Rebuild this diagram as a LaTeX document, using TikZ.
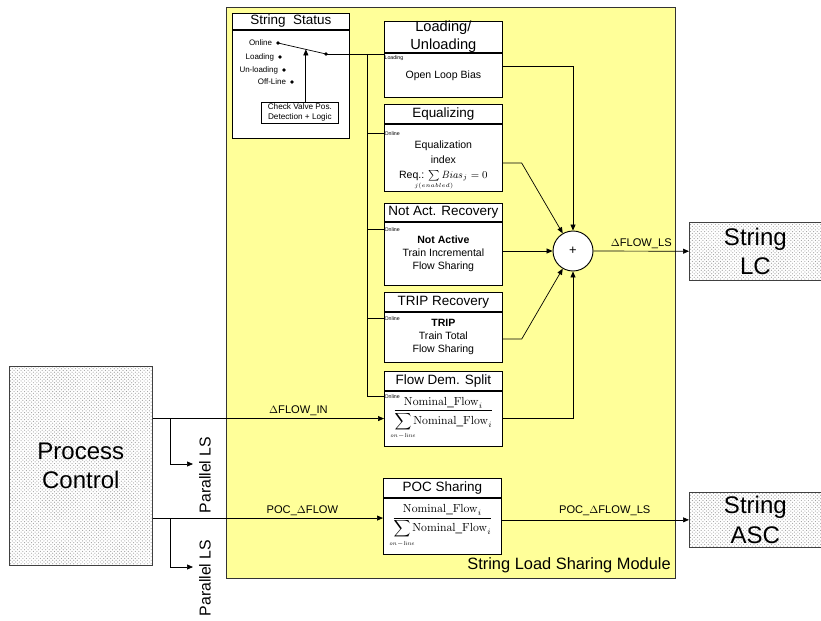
\documentclass[tikz,border=0pt]{standalone}
\usepackage{amsmath}
\usepackage[no-math]{fontspec}
\setmainfont{Liberation Sans}
\usetikzlibrary{arrows.meta,positioning,calc,patterns}
\definecolor{ModYellow}{HTML}{FFFF99}
\definecolor{ExtGray}{HTML}{A0A0A0}
\newcommand{\nomfrac}{\fontsize{10}{12}\selectfont$\dfrac{\mathrm{Nominal\_Flow}_i\rule[-3pt]{0pt}{3pt}}%
    {\displaystyle\sum_{\makebox[0pt]{$\scriptscriptstyle\mathit{on-line}$}}\mathrm{Nominal\_Flow}_i}$}
\tikzset{
    % Base box style
    basebox/.style={
        draw=black,
        fill=white,
        line width=0.6pt,
        inner sep=0pt,
        align=center,
        anchor=north west
    },
    % Title row of a function block
    titlebox/.style={
        basebox,
        minimum width=3.54cm,
        font=\fontsize{11.5}{12.5}\selectfont
    },
    % Body of a function block
    bodybox/.style={
        basebox,
        minimum width=3.54cm,
        font=\fontsize{9}{11}\selectfont
    },
    % Small enable tag inside a block
    tagnode/.style={
        anchor=west,
        inner sep=0.3pt,
        font=\fontsize{4.5}{5}\selectfont
    },
    % External block with dotted fill
    extbox/.style={
        draw=black!75,
        line width=0.6pt,
        preaction={fill=white},
        pattern=crosshatch dots,
        pattern color=ExtGray,
        inner sep=0pt,
        align=center,
        anchor=north west,
        font=\fontsize{20.5}{25}\selectfont
    },
    % Module background
    modbox/.style={
        draw=black!80,
        fill=ModYellow,
        line width=0.8pt,
        anchor=north west,
        inner sep=0pt
    },
    % Summing junction
    sumnode/.style={
        circle,
        draw=black,
        fill=white,
        line width=0.8pt,
        minimum size=1.2cm,
        inner sep=0pt,
        font=\fontsize{11}{12}\selectfont
    },
    % Switch contact
    swdot/.style={
        circle,
        fill=black,
        inner sep=0pt,
        minimum size=1.1mm
    },
    % Switch contact label
    swlabel/.style={
        inner sep=0pt,
        font=\fontsize{6.8}{7}\selectfont
    },
    % Signal label
    siglabel/.style={
        inner sep=2pt,
        font=\fontsize{9.5}{10}\selectfont
    },
    % Rotated side label
    sidelabel/.style={
        rotate=90,
        inner sep=0pt,
        font=\fontsize{13.5}{14}\selectfont
    },
    % Plain wire
    wire/.style={
        line width=0.6pt,
        draw=black
    },
    % Signal arrow
    sigarrow/.style={
        wire,
        -{Triangle[length=1.8mm,width=1.5mm]}
    }
}

\begin{document}
\begin{tikzpicture}[x=0.03cm, y=-0.03cm]
    \useasboundingbox (0,0) rectangle (821,620);

    % String load sharing module
    \node[modbox, minimum width=13.47cm, minimum height=17.13cm] (mod) at (226,7) {};
    \node[anchor=south east, inner sep=0pt, font=\fontsize{14}{15}\selectfont] (modlbl)
        at ($(mod.south east)+(-5,-6)$) {String Load Sharing Module};

    % String status and switch
    \node[titlebox, minimum width=3.51cm, minimum height=0.48cm] (ssT) at (232,13) {String\ \ Status};
    \node[bodybox, minimum width=3.51cm, minimum height=3.24cm] (ssB) at (ssT.south west) {};
    \node[basebox, minimum width=2.31cm, minimum height=0.63cm, font=\fontsize{7}{8.5}\selectfont] (cv)
        at (261,102) {Check Valve Pos.\\Detection + Logic};
    \node[swdot] (on) at (278,43) {};
    \node[swdot] (ld) at (280,57) {};
    \node[swdot] (ul) at (284,70) {};
    \node[swdot] (of) at (292,82) {};
    \node[swdot] (pv) at (326,54) {};
    \node[swlabel, left=1.1mm of on] (onL) {Online};
    \node[swlabel, left=1.1mm of ld] (ldL) {Loading};
    \node[swlabel, left=1.1mm of ul] (ulL) {Un-loading};
    \node[swlabel, left=1.1mm of of] (ofL) {Off-Line};
    \draw[wire] (on.center) -- (pv.center);
    \coordinate (swm) at ($(on)!0.58!(pv)$);
    \draw[sigarrow] (cv.north -| swm) -- (swm);

    % Function blocks
    \node[titlebox, minimum height=0.93cm, font=\fontsize{12.5}{15}\selectfont] (ldT) at (384,21) {Loading/\\Unloading};
    \node[bodybox, minimum height=1.32cm] (ldB) at (ldT.south west) {Open Loop Bias};
    \node[tagnode] (ldOn) at ($(ldB.north west)+(0,5)$) {Loading};

    \node[titlebox, minimum height=0.57cm] (eqT) at (384,104) {Equalizing};
    \node[bodybox, minimum height=2.01cm] (eqB) at (eqT.south west) {};
    \node[bodybox, draw=none, fill=none, anchor=center, font=\fontsize{9}{13}\selectfont] (eqTx)
        at ($(eqB.center)+(0,8)$)
        {Equalization\\index\\Req.: $\sum\limits_{\makebox[0pt]{$\scriptscriptstyle j(enabled)$}}\mathit{Bias}_j=0$};
    \node[tagnode] (eqOn) at ($(eqB.north west)+(0,10)$) {Online};

    \node[titlebox, minimum height=0.54cm] (naT) at (384,203) {Not Act. Recovery};
    \node[bodybox, minimum height=1.89cm] (naB) at (naT.south west) {\textbf{Not Active}\\Train Incremental\\Flow Sharing};
    \node[tagnode] (naOn) at ($(naB.north west)+(0,8)$) {Online};

    \node[titlebox, minimum height=0.57cm] (trT) at (384,292) {TRIP Recovery};
    \node[bodybox, minimum height=1.5cm] (trB) at (trT.south west) {\textbf{TRIP}\\Train Total\\Flow Sharing};
    \node[tagnode] (trOn) at ($(trB.north west)+(0,7)$) {Online};

    \node[titlebox, minimum height=0.57cm] (fdT) at (384,371) {Flow Dem. Split};
    \node[bodybox, minimum height=1.65cm] (fdB) at (fdT.south west) {\nomfrac};
    \node[tagnode] (fdOn) at ($(fdB.north west)+(0,6)$) {Online};

    \node[titlebox, minimum height=0.57cm] (pocT) at (383,478) {POC Sharing};
    \node[bodybox, minimum height=1.68cm] (pocB) at (pocT.south west) {\nomfrac};

    % Summing junction
    \node[sumnode] (sum) at (573,251) {+};

    % External blocks
    \node[extbox, minimum width=4.29cm, minimum height=5.97cm] (pc) at (9,366) {Process\\Control};
    \node[extbox, minimum width=3.96cm, minimum height=1.74cm] (lc) at (689,222) {String\\LC};
    \node[extbox, minimum width=3.96cm, minimum height=1.65cm] (asc) at (689,492) {String\\ASC};

    % Enable bus
    \coordinate (bus) at (367,54);
    \draw[wire] (pv.center) -- (pv -| ldB.west);
    \draw[wire] (bus) -- (bus |- fdOn.west) -- (fdOn.west);
    \draw[wire] (bus |- eqOn.west) -- (eqOn.west);
    \draw[wire] (bus |- naOn.west) -- (naOn.west);
    \draw[wire] (bus |- trOn.west) -- (trOn.west);

    % Block outputs into the sum
    \draw[sigarrow] ($(ldB.east)+(0,-9)$) -| (sum.north);
    \draw[sigarrow] ($(eqB.east)+(0,5.5)$) -- ++(19,0) -- (sum);
    \draw[sigarrow] (sum -| naB.east) -- (sum);
    \draw[sigarrow] ($(trB.east)+(0,2)$) -- ++(19,0) -- (sum);
    \draw[sigarrow] (fdB.east) -| (sum.south);

    % Outputs
    \draw[sigarrow] (sum) -- (lc) node[siglabel, midway, above] {$\Delta$FLOW\_LS};
    \draw[sigarrow] (asc.west -| pocB.east) -- (asc.west)
        node[siglabel, pos=0.55, above, yshift=1pt] {POC\_$\Delta$FLOW\_LS};

    % Inputs from process control
    \coordinate (pocIn) at ($(pocB.west)+(0,-8)$);
    \draw[sigarrow] (pc.east |- fdB.west) -- (fdB.west)
        node[siglabel, pos=0.63, above] {$\Delta$FLOW\_IN};
    \draw[sigarrow] (pc.east |- pocIn) -- (pocIn)
        node[siglabel, pos=0.65, above] {POC\_$\Delta$FLOW};

    % Parallel load sharing branches
    \node[sidelabel] (plA) at (205,475) {Parallel LS};
    \node[sidelabel] (plB) at (205,578) {Parallel LS};
    \coordinate (br1) at ($(pc.east |- fdB.west)+(18,0)$);
    \coordinate (br2) at ($(pc.east |- pocIn)+(18,0)$);
    \coordinate (pl1) at (193,464);
    \coordinate (pl2) at (193,567);
    \draw[sigarrow] (br1) |- (pl1);
    \draw[sigarrow] (br2) |- (pl2);
\end{tikzpicture}
\end{document}
